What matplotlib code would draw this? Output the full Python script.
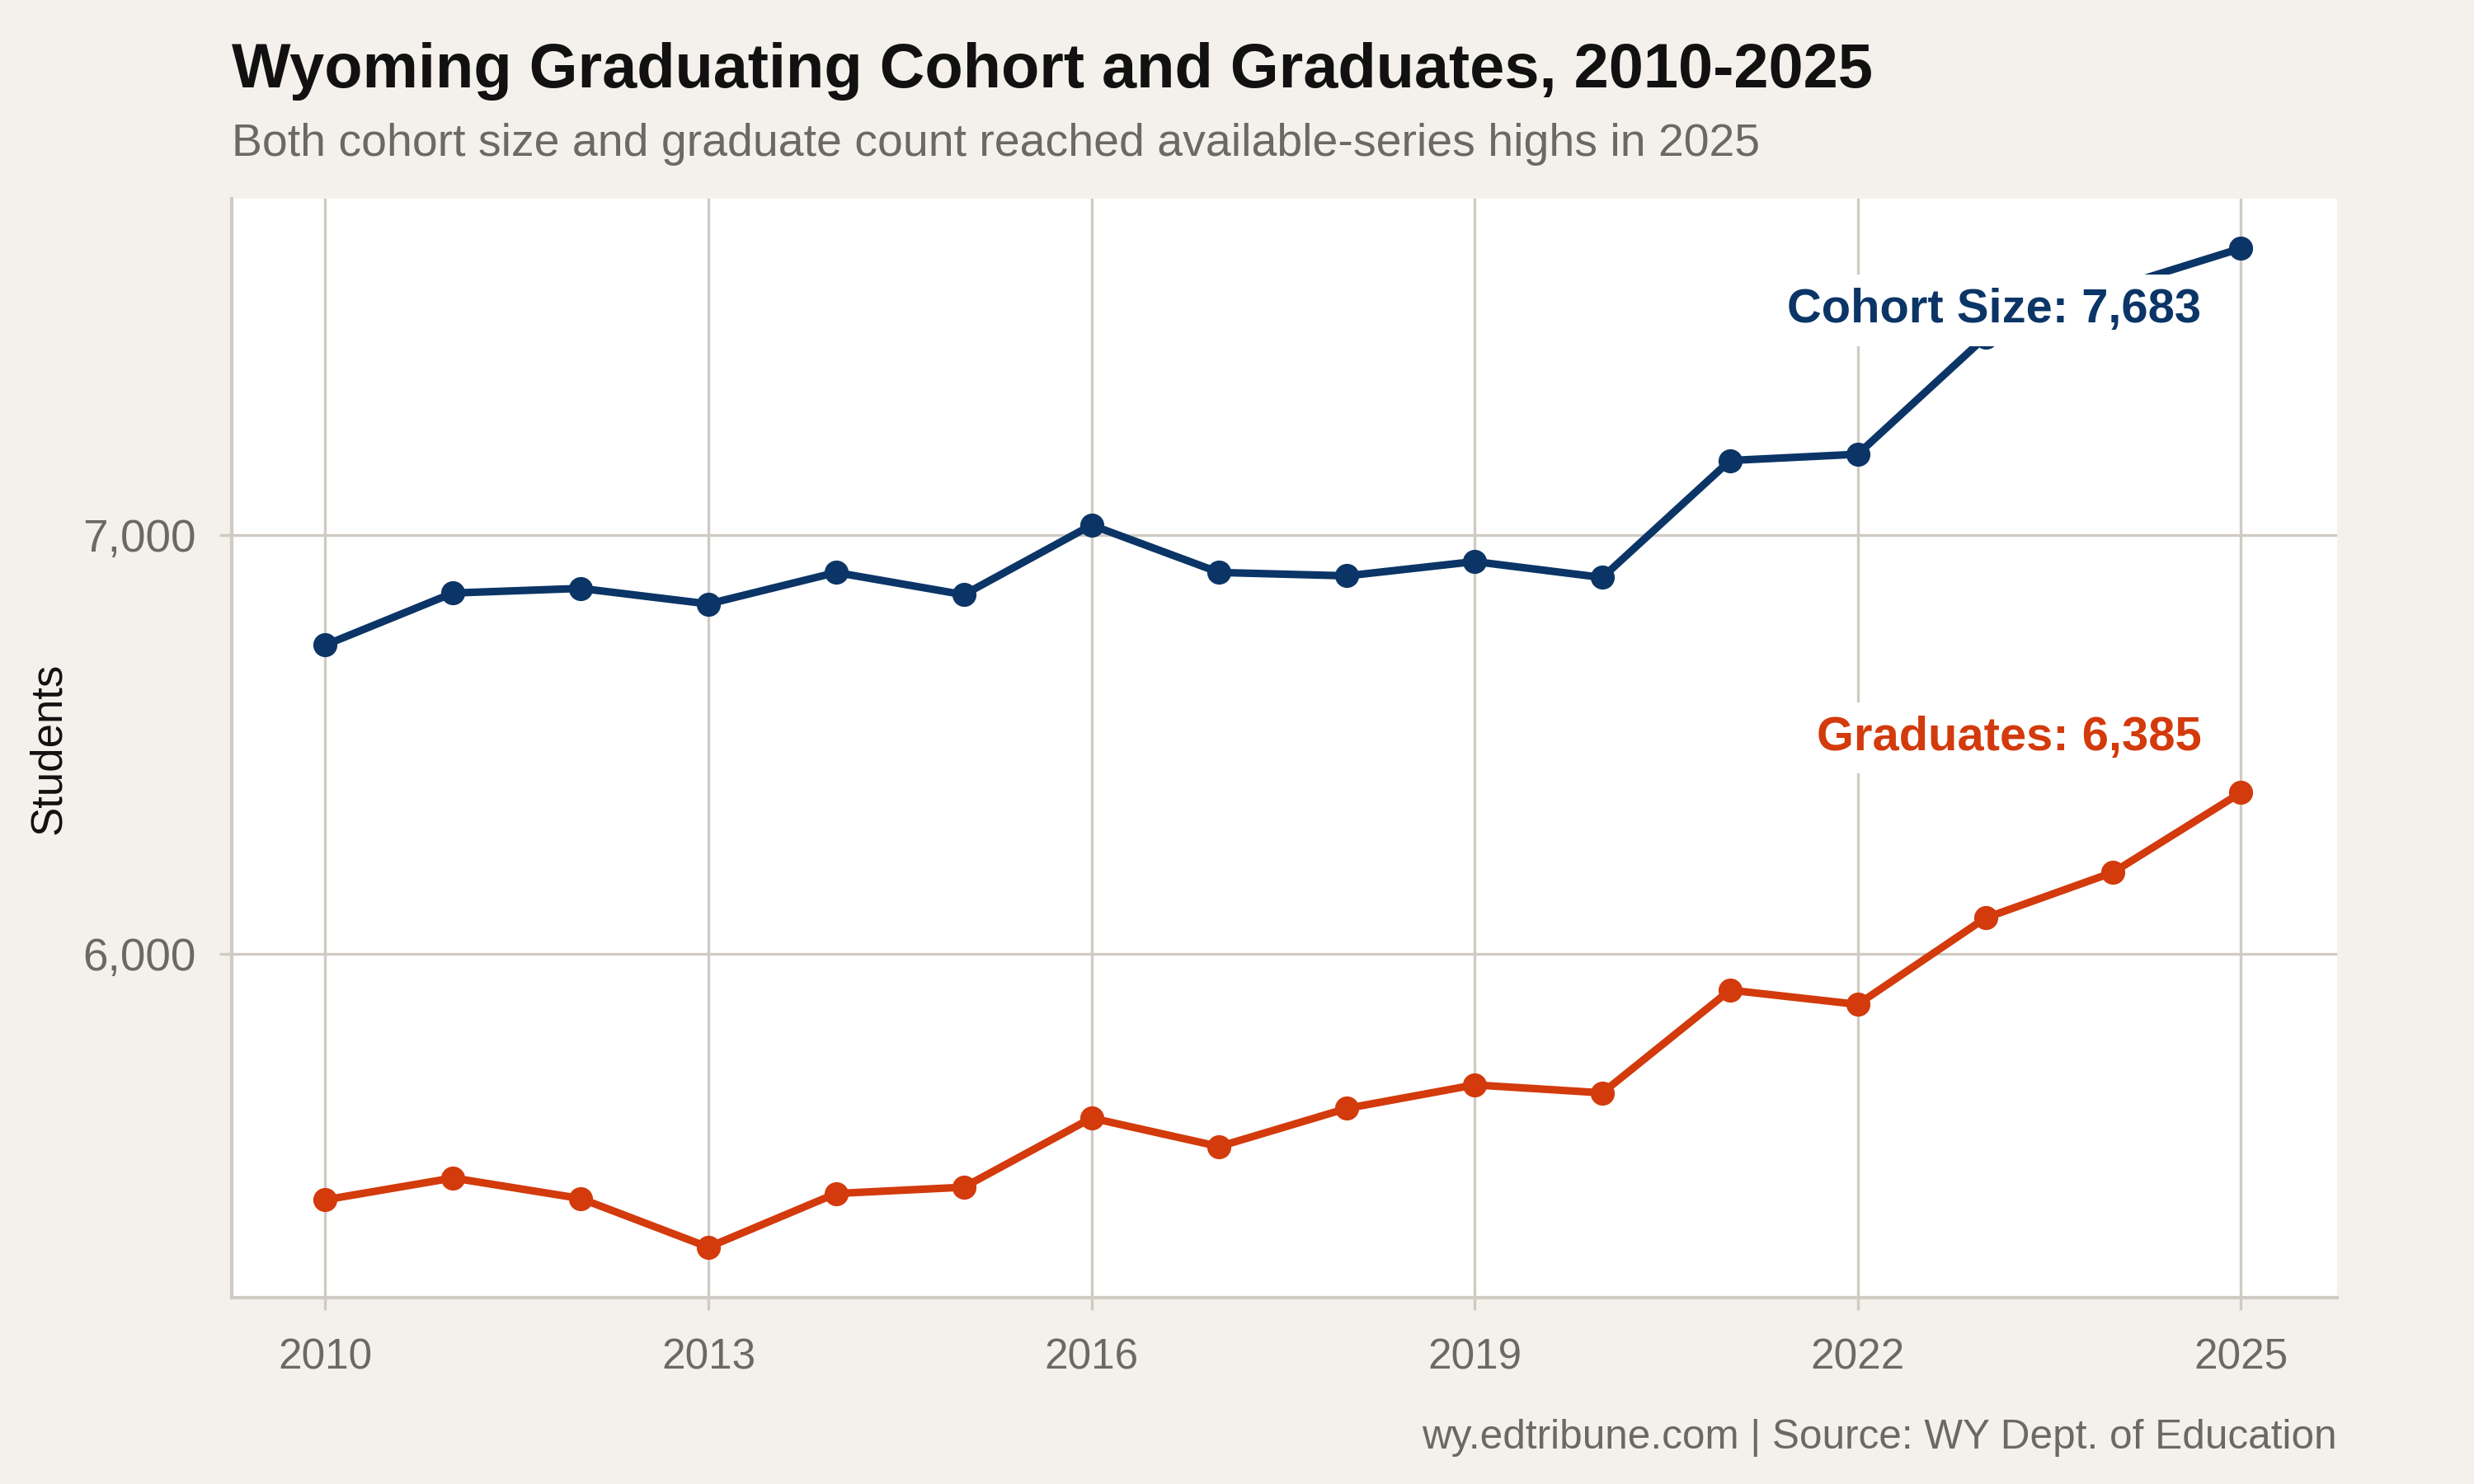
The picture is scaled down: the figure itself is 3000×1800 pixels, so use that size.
import matplotlib
matplotlib.use("Agg")
import matplotlib.pyplot as plt
from matplotlib.ticker import FuncFormatter

plt.rcParams.update({
    "font.family": ["Liberation Sans", "DejaVu Sans"],
    "axes.unicode_minus": False,
})

years = list(range(2010, 2026))
cohort = [6737, 6861, 6872, 6835, 6910, 6857, 7023, 6910,
          6902, 6936, 6898, 7177, 7192, 7472, 7588, 7683]
graduates = [5414, 5466, 5417, 5301, 5429, 5444, 5609, 5541,
             5632, 5688, 5669, 5914, 5880, 6086, 6195, 6385]

BG = "#f4f1ec"
GRID = "#cfcac2"
GREY = "#6b6964"
NAVY = "#0b3566"
RED = "#d33a0c"

fig = plt.figure(figsize=(10, 6), dpi=300, facecolor=BG)
ax = fig.add_axes([0.0938, 0.1254, 0.8507, 0.7406])
ax.set_facecolor("white")

ax.plot(years, cohort, color=NAVY, lw=2.2, marker="o", ms=6, zorder=3)
ax.plot(years, graduates, color=RED, lw=2.2, marker="o", ms=6, zorder=3)

# end-of-line labels on white boxes
ax.text(2024.69, 7535, f"Cohort Size: {cohort[-1]:,}", color=NAVY,
        fontsize=13.9, fontweight="bold", ha="right", va="center", zorder=4,
        bbox=dict(boxstyle="square,pad=0.28", fc="white", ec="none"))
ax.text(2024.69, 6515, f"Graduates: {graduates[-1]:,}", color=RED,
        fontsize=13.9, fontweight="bold", ha="right", va="center", zorder=4,
        bbox=dict(boxstyle="square,pad=0.28", fc="white", ec="none"))

ax.set_xlim(2009.27, 2025.75)
ax.set_ylim(5180, 7801)
ax.set_xticks(range(2010, 2026, 3))
ax.set_yticks([6000, 7000])
ax.yaxis.set_major_formatter(FuncFormatter(lambda v, _: f"{v:,.0f}"))
ax.grid(True, color=GRID, lw=0.8, zorder=0)
ax.set_axisbelow(True)
for side in ("top", "right"):
    ax.spines[side].set_visible(False)
for side in ("left", "bottom"):
    ax.spines[side].set_color(GRID)
    ax.spines[side].set_linewidth(1.0)
ax.tick_params(colors=GRID, labelcolor=GREY, length=3.5, width=0.8)
ax.tick_params(axis="x", labelsize=12.3, pad=8)
ax.tick_params(axis="y", labelsize=13.2, pad=7)
ax.set_ylabel("Students", fontsize=12.7, color="#111111")
ax.yaxis.set_label_coords(-0.0772, 0.5)

fig.text(0.0938, 0.952, "Wyoming Graduating Cohort and Graduates, 2010-2025",
         fontsize=18.2, fontweight="bold", color="#111111", va="center")
fig.text(0.0938, 0.903,
         "Both cohort size and graduate count reached available-series highs in 2025",
         fontsize=13.3, color=GREY, va="center")
fig.text(0.9445, 0.031, "wy.edtribune.com | Source: WY Dept. of Education",
         fontsize=11.9, color=GREY, ha="right", va="center")

fig.savefig("out.png", dpi=300, facecolor=BG)
